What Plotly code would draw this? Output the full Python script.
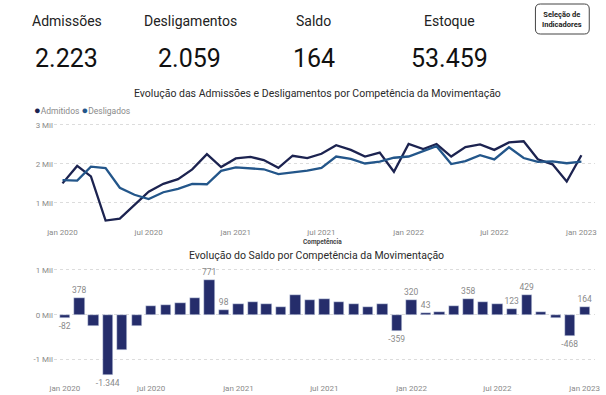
import plotly.graph_objects as go

# ---------------- data ----------------
meses = ["2020-01-01","2020-02-01","2020-03-01","2020-04-01","2020-05-01","2020-06-01",
         "2020-07-01","2020-08-01","2020-09-01","2020-10-01","2020-11-01","2020-12-01",
         "2021-01-01","2021-02-01","2021-03-01","2021-04-01","2021-05-01","2021-06-01",
         "2021-07-01","2021-08-01","2021-09-01","2021-10-01","2021-11-01","2021-12-01",
         "2022-01-01","2022-02-01","2022-03-01","2022-04-01","2022-05-01","2022-06-01",
         "2022-07-01","2022-08-01","2022-09-01","2022-10-01","2022-11-01","2022-12-01",
         "2023-01-01"]
admitidos = [1502, 1950, 1680, 550, 600, 950, 1290, 1490, 1610, 1860, 2250, 1920,
             2140, 2180, 2100, 1900, 2210, 2150, 2260, 2480, 2360, 2190, 2290, 1800,
             2510, 2380, 2510, 2190, 2430, 2500, 2360, 2550, 2580, 2120, 1990, 1550,
             2223]
desligados = [1584, 1572, 1930, 1894, 1390, 1210, 1100, 1275, 1360, 1490, 1479, 1822,
              1910, 1890, 1863, 1737, 1780, 1830, 1900, 2190, 2130, 2012, 2060, 2159,
              2190, 2337, 2455, 1997, 2072, 2226, 2115, 2427, 2151, 2053, 2065, 2018,
              2059]
saldo = [-82, 378, -250, -1344, -790, -260, 190, 215, 250, 370, 771, 98,
         230, 290, 237, 163, 430, 320, 360, 290, 230, 178, 230, -359,
         320, 43, 55, 193, 358, 274, 245, 123, 429, 67, -75, -468,
         164]
saldo_rotulado = [0, 1, 3, 10, 11, 23, 24, 25, 28, 31, 32, 35, 36]  # bars with a data label

kpi_nomes = ["Admissões", "Desligamentos", "Saldo", "Estoque"]
kpi_valores = [2223, 2059, 164, 53459]

x_ticks = ["2020-01-01", "2020-07-01", "2021-01-01", "2021-07-01", "2022-01-01", "2022-07-01", "2023-01-01"]
x_ticktext = ["jan 2020", "jul 2020", "jan 2021", "jul 2021", "jan 2022", "jul 2022", "jan 2023"]
y1_ticks = [1000, 2000, 3000]
y1_ticktext = ["1 Mil", "2 Mil", "3 Mil"]
y2_ticks = [-1000, 0, 1000]
y2_ticktext = ["-1 Mil", "0 Mil", "1 Mil"]

# ---------------- helpers ----------------
W, H = 606, 395
def px_x(p): return p / W
def px_y(p): return 1 - p / H
def fmt_br(v): return f"{v:,}".replace(",", ".")

C_ADM = "#1c2350"
C_DES = "#23568a"
C_BAR = "#252d6b"
GRID = "#dcdcdc"
TICK = "#8a8a8a"
TFONT = "Roboto, sans-serif"
SFONT = "Roboto, sans-serif"

fig = go.Figure()

fig.add_trace(go.Scatter(x=meses, y=admitidos, mode="lines", name="Admitidos",
                         line=dict(color=C_ADM, width=2.3), xaxis="x", yaxis="y", showlegend=False))
fig.add_trace(go.Scatter(x=meses, y=desligados, mode="lines", name="Desligados",
                         line=dict(color=C_DES, width=2.3), xaxis="x", yaxis="y", showlegend=False))

rotulos = [fmt_br(v) if i in saldo_rotulado else "" for i, v in enumerate(saldo)]
fig.add_trace(go.Bar(x=meses, y=saldo, marker_color=C_BAR, text=rotulos,
                     textposition="outside", cliponaxis=False, constraintext="none",
                     textfont=dict(family=SFONT, size=8.5, color="#8a8a8a"),
                     width=0.72 * 30.4 * 86400000, xaxis="x2", yaxis="y2", showlegend=False))

axis_common = dict(showline=False, zeroline=False, ticks="",
                   tickfont=dict(family=SFONT, size=8, color=TICK))

fig.update_layout(
    width=W, height=H, margin=dict(l=0, r=0, t=0, b=0),
    paper_bgcolor="white", plot_bgcolor="white",
    separators=",.",
    bargap=0,
    xaxis=dict(domain=[px_x(47), px_x(600)], type="date",
               range=["2019-12-14", "2023-01-30"], tickvals=x_ticks, ticktext=x_ticktext,
               showgrid=False, anchor="y", **axis_common),
    yaxis=dict(domain=[px_y(226), px_y(121)], range=[410, 3100], tickvals=y1_ticks,
               ticktext=y1_ticktext, showgrid=True, gridcolor=GRID, griddash="dot",
               gridwidth=1, anchor="x", **axis_common),
    xaxis2=dict(domain=[px_x(47), px_x(600)], type="date",
                range=["2019-12-09", "2023-01-23"], tickvals=x_ticks, ticktext=x_ticktext,
                showgrid=False, anchor="y2", **axis_common),
    yaxis2=dict(domain=[px_y(382), px_y(264)], range=[-1500, 1130], tickvals=y2_ticks,
                ticktext=y2_ticktext, showgrid=True, gridcolor=GRID, griddash="dot",
                gridwidth=1, anchor="x2", **axis_common),
)

ann = []
kpi_x = [60, 186, 312, 451]
kpi_vx = [59.5, 185, 312.5, 451.5]
for nome, val, xl, xv in zip(kpi_nomes, kpi_valores, kpi_x, kpi_vx):
    ann.append(dict(x=px_x(xl), y=px_y(21), xref="paper", yref="paper", text=nome,
                    showarrow=False, xanchor="center", yanchor="middle",
                    font=dict(family=TFONT, size=14, color="#222222")))
    ann.append(dict(x=px_x(xv), y=px_y(58), xref="paper", yref="paper", text=fmt_br(val),
                    showarrow=False, xanchor="center", yanchor="middle",
                    font=dict(family=TFONT, size=25, color="#111111")))

ann.append(dict(x=px_x(566.5), y=px_y(19), xref="paper", yref="paper",
                text="<b>Seleção de<br>Indicadores</b>", showarrow=False,
                xanchor="center", yanchor="middle",
                font=dict(family=TFONT, size=7.5, color="#222222")))

ann.append(dict(x=px_x(316), y=px_y(93), xref="paper", yref="paper",
                text="Evolução das Admissões e Desligamentos por Competência da Movimentação",
                showarrow=False, xanchor="center", yanchor="middle",
                font=dict(family=TFONT, size=10.5, color="#2a2a2a")))
ann.append(dict(x=px_x(315), y=px_y(255), xref="paper", yref="paper",
                text="Evolução do Saldo por Competência da Movimentação",
                showarrow=False, xanchor="center", yanchor="middle",
                font=dict(family=TFONT, size=10.5, color="#2a2a2a")))
ann.append(dict(x=px_x(321), y=px_y(242), xref="paper", yref="paper",
                text="<b>Competência</b>", showarrow=False, xanchor="center", yanchor="middle",
                font=dict(family=SFONT, size=6.5, color="#444444")))
ann.append(dict(x=px_x(25), y=px_y(111), xref="paper", yref="paper",
                text=(f"<span style='color:{C_ADM};font-size:11px'>●</span>Admitidos "
                      f"<span style='color:{C_DES};font-size:11px'>●</span>Desligados"),
                showarrow=False, xanchor="left", yanchor="middle",
                font=dict(family=SFONT, size=8.5, color="#8a8a8a")))
fig.update_layout(annotations=ann)

x0b, x1b, y0b, y1b, r = 539, 594, 4, 34, 5
fig.add_shape(type="path", xref="paper", yref="paper",
              path=(f"M {px_x(x0b+r)},{px_y(y0b)} L {px_x(x1b-r)},{px_y(y0b)} "
                    f"Q {px_x(x1b)},{px_y(y0b)} {px_x(x1b)},{px_y(y0b+r)} "
                    f"L {px_x(x1b)},{px_y(y1b-r)} Q {px_x(x1b)},{px_y(y1b)} {px_x(x1b-r)},{px_y(y1b)} "
                    f"L {px_x(x0b+r)},{px_y(y1b)} Q {px_x(x0b)},{px_y(y1b)} {px_x(x0b)},{px_y(y1b-r)} "
                    f"L {px_x(x0b)},{px_y(y0b+r)} Q {px_x(x0b)},{px_y(y0b)} {px_x(x0b+r)},{px_y(y0b)} Z"),
              line=dict(color="#444444", width=1), fillcolor="rgba(0,0,0,0)")

fig.write_html("out.html", config={"displayModeBar": False},
               post_script="document.body.style.margin='0';")
